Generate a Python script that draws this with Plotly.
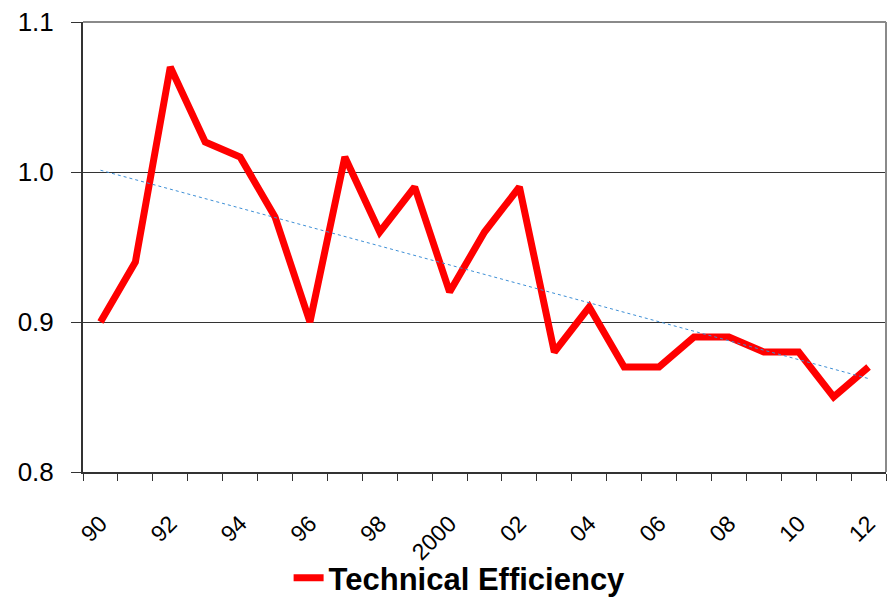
import numpy as np
import plotly.graph_objects as go

# Annual technical efficiency scores, 1990-2012
years = list(range(1990, 2013))
efficiency = [0.90, 0.94, 1.07, 1.02, 1.01, 0.97, 0.90, 1.01, 0.96, 0.99, 0.92, 0.96,
              0.99, 0.88, 0.91, 0.87, 0.87, 0.89, 0.89, 0.88, 0.88, 0.85, 0.87]
tick_labels = ["90", "92", "94", "96", "98", "2000", "02", "04", "06", "08", "10", "12"]
y_ticks = [0.8, 0.9, 1.0, 1.1]
y_labels = ["0.8", "0.9", "1.0", "1.1"]

idx = np.arange(len(years))
slope, intercept = np.polyfit(idx, efficiency, 1)
trend = slope * idx + intercept

fig = go.Figure()
fig.add_trace(go.Scatter(
    x=idx, y=efficiency, mode="lines", name="Technical Efficiency",
    line=dict(color="#FF0000", width=7),
))
fig.add_trace(go.Scatter(
    x=idx, y=trend, mode="lines", showlegend=False,
    line=dict(color="#3d8fd6", width=1, dash="dot"),
))

axis_color = "#333333"
fig.update_xaxes(
    range=[-0.5, len(years) - 0.5], automargin=False,
    tickmode="array", tickvals=idx[::2], ticktext=tick_labels,
    ticks="", tickangle=-45, tickfont=dict(size=23, color="black"),
    ticklabelstandoff=27,
    showgrid=False, zeroline=False,
    showline=True, linecolor=axis_color, linewidth=2,
    minor=dict(ticks="outside", tickmode="linear", tick0=-0.5, dtick=1,
               ticklen=7, tickcolor=axis_color, tickwidth=1, showgrid=False),
)
fig.update_yaxes(
    range=[0.8, 1.1], automargin=False,
    tickmode="array", tickvals=y_ticks, ticktext=y_labels,
    ticks="outside", ticklen=10, tickcolor=axis_color, tickwidth=1,
    tickfont=dict(size=26, color="black"), ticklabelstandoff=12,
    showgrid=True, gridcolor=axis_color, gridwidth=1, zeroline=False,
    showline=True, linecolor=axis_color, linewidth=2,
)

# Gray frame along the top and right edges of the plot area
fig.add_shape(type="line", xref="paper", yref="paper", x0=0, x1=1, y0=1, y1=1,
              line=dict(color="#8a8a8a", width=2))
fig.add_shape(type="line", xref="paper", yref="paper", x0=1, x1=1, y0=0, y1=1,
              line=dict(color="#8a8a8a", width=2))

fig.update_layout(
    width=895, height=599,
    margin=dict(l=83, r=9, t=22, b=127, autoexpand=False),
    paper_bgcolor="white", plot_bgcolor="white",
    font=dict(family="Liberation Sans, Arial, sans-serif", color="black"),
    showlegend=True,
    legend=dict(orientation="h", x=0.469, xanchor="center",
                yref="container", y=0.035, yanchor="middle",
                font=dict(size=31, color="black", family="Liberation Sans, Arial, sans-serif", weight="bold"),
                bgcolor="rgba(0,0,0,0)"),
)

fig.write_html("out.html")
